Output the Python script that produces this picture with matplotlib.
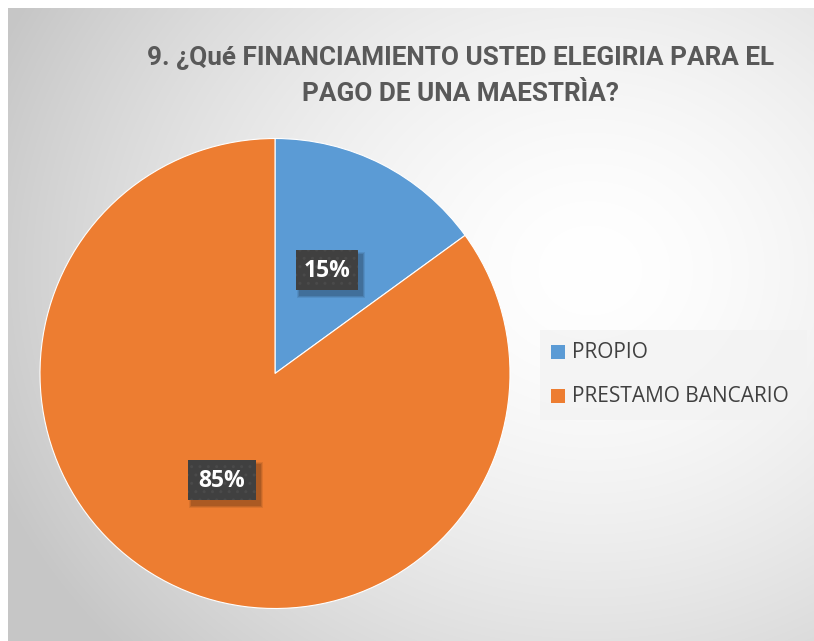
import numpy as np
import matplotlib.pyplot as plt
from matplotlib.patches import Rectangle

# data
categorias = ['PROPIO', 'PRESTAMO BANCARIO']
porcentajes = [15, 85]
colores = ['#5B9BD5', '#ED7D31']
titulo = '9. ¿Qué FINANCIAMIENTO USTED ELEGIRIA PARA EL\nPAGO DE UNA MAESTRÌA?'

W, H = 814, 641
fig = plt.figure(figsize=(W / 100, H / 100), dpi=100)
fig.patch.set_facecolor('white')

# background with radial gradient (pixel coords)
bg = fig.add_axes([0, 0, 1, 1])
bg.set_xlim(0, W)
bg.set_ylim(H, 0)
bg.axis('off')
yy, xx = np.mgrid[8:H, 8:W]
d = np.sqrt((xx - 590.0) ** 2 + ((yy - 270.0) * 1.15) ** 2)
v = 1.0 - 0.22 * np.clip(d / 640.0, 0, 1) ** 1.6
img = np.dstack([v, v, v])
bg.imshow(img, extent=(8, W, H, 8), aspect='auto', zorder=0)

# pie
cx, cy, r = 275, 373.5, 235
ax = fig.add_axes([(cx - r) / W, (H - cy - r) / H, 2 * r / W, 2 * r / H])
ax.pie(porcentajes, colors=colores, startangle=90, counterclock=False,
       radius=1, wedgeprops=dict(edgecolor='white', linewidth=0.8))
ax.set_xlim(-1, 1)
ax.set_ylim(-1, 1)
ax.axis('off')

# overlay for texts
top = fig.add_axes([0, 0, 1, 1])
top.set_xlim(0, W)
top.set_ylim(H, 0)
top.axis('off')
top.patch.set_alpha(0)

top.text(461, 76, titulo, ha='center', va='center', fontsize=18.8,
         fontweight='bold', color='#595959', family='Roboto',
         linespacing=1.6)

# data labels (dark boxes with soft shadow)
etiquetas = [(327, 270), (222, 480)]
for (lx, ly), p in zip(etiquetas, porcentajes):
    bw, bh = (62, 40) if p < 50 else (68, 40)
    for k, a in [(3, 0.08), (2, 0.1), (1, 0.12)]:
        top.add_patch(Rectangle((lx - bw / 2 + 4 - k, ly - bh / 2 + 5 - k),
                                bw + 2 * k, bh + 2 * k,
                                facecolor='black', alpha=a, linewidth=0))
    top.add_patch(Rectangle((lx - bw / 2, ly - bh / 2), bw, bh,
                            facecolor='#404040', edgecolor='#4a4a4a', hatch='..',
                            linewidth=0))
    top.text(lx, ly + 1, f'{p}%', ha='center', va='center', fontsize=16.5,
             fontweight='bold', color='white', family='Open Sans')

# legend
top.add_patch(Rectangle((540, 330), 267, 90, facecolor='#f2f2f2', alpha=0.7,
                        linewidth=0))
for i, (cat, col) in enumerate(zip(categorias, colores)):
    y = 352 + i * 44
    top.add_patch(Rectangle((551, y - 7), 14, 14, facecolor=col, linewidth=0))
    top.text(572, y + 1, cat, ha='left', va='center', fontsize=15,
             color='#404040', family='Open Sans')

plt.savefig('out.png', dpi=100)
